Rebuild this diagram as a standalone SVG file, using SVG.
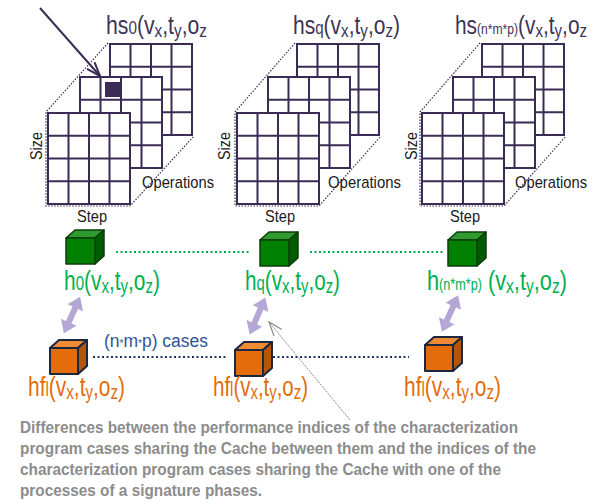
<svg xmlns="http://www.w3.org/2000/svg" xmlns:xlink="http://www.w3.org/1999/xlink" width="593" height="504" viewBox="0 0 593 504">
  <style>
    text { font-family: "Liberation Sans", Arial, sans-serif; }
    .hs { font-size: 25px; fill: #3d3354; }
    .hg { font-size: 27px; fill: #00b050; }
    .ho { font-size: 27px; fill: #e46c0a; }
    .ax { font-size: 17px; fill: #1a1a1a; }
    .sub { font-size: 0.72em; }
    .subs { font-size: 0.58em; }
    .cases { font-size: 18px; fill: #2f5597; }
    .note { font-size: 17px; font-weight: bold; fill: #8c8c8c; }
    .grid-line { stroke: #3b2c55; stroke-width: 2; fill: none; }
    .box-dots { stroke: #3b2c55; stroke-width: 1.2; stroke-dasharray: 1.5 1.5; fill: none; }
    .green-dots { stroke: #00b050; stroke-width: 2; stroke-dasharray: 2 2.5; fill: none; }
    .navy-dots { stroke: #1f3864; stroke-width: 2; stroke-dasharray: 2 2.5; fill: none; }
  </style>
  <defs>
    <!-- 4x4 grid sheet, 82 x 91 -->
    <g id="grid">
      <rect x="0" y="0" width="82" height="91" fill="#ffffff"/>
      <path class="grid-line" d="M0,0 H82 V91 H0 Z M20.5,0 V91 M41,0 V91 M61.5,0 V91 M0,22.75 H82 M0,45.5 H82 M0,68.25 H82"/>
    </g>
    <!-- green cube -->
    <g id="gcube" stroke="#0b3d0b" stroke-width="1.5" stroke-linejoin="round">
      <polygon points="0,0 9,-8 38,-8 29,0" fill="#2f9a2f"/>
      <polygon points="29,0 38,-8 38,18 29,26" fill="#005c00"/>
      <rect x="0" y="0" width="29" height="26" fill="#008000"/>
    </g>
    <!-- orange cube -->
    <g id="ocube" stroke="#1c2841" stroke-width="2" stroke-linejoin="round">
      <polygon points="0,0 9,-8 37,-8 28,0" fill="#f08a35"/>
      <polygon points="28,0 37,-8 37,18 28,26" fill="#b65508"/>
      <rect x="0" y="0" width="28" height="26" fill="#e46c0a"/>
    </g>
    <!-- double-headed lavender arrow along x axis, length 40 -->
    <polygon id="dblarrow" points="-20,0 -8,-8.5 -8,-3 8,-3 8,-8.5 20,0 8,8.5 8,3 -8,3 -8,8.5" fill="#b4a7d6"/>
    <marker id="openDark" viewBox="0 0 16 12" refX="15" refY="6" markerWidth="16" markerHeight="12" markerUnits="userSpaceOnUse" orient="auto">
      <path d="M1,1 L15,6 L1,11" fill="none" stroke="#3b2c55" stroke-width="2"/>
    </marker>
    <marker id="openGrey" viewBox="0 0 16 12" refX="15" refY="6" markerWidth="16" markerHeight="12" markerUnits="userSpaceOnUse" orient="auto">
      <path d="M1,1 L15,6 L1,11" fill="none" stroke="#8a8a8a" stroke-width="1.2"/>
    </marker>
  </defs>

  <!-- stack of sheets: hs0 -->
  <g id="slice-hs0">
    <polyline class="box-dots" points="108,43 46,112 46,206 130,206 194,136"/>
    <use xlink:href="#grid" x="110" y="44"/>
    <use xlink:href="#grid" x="80" y="77"/>
    <rect x="105" y="82" width="15" height="15" fill="#3b2c55"/>
    <use xlink:href="#grid" x="48" y="113"/>
    <text class="hs" x="106" y="34" textLength="101" lengthAdjust="spacingAndGlyphs">hs<tspan class="sub">0</tspan>(v<tspan class="sub" dy="3">x</tspan><tspan dy="-3">,t</tspan><tspan class="sub" dy="3">y</tspan><tspan dy="-3">,o</tspan><tspan class="sub" dy="3">z</tspan></text>
    <text class="ax" transform="translate(41.5,146) rotate(-90)" text-anchor="middle" textLength="28" lengthAdjust="spacingAndGlyphs">Size</text>
    <text class="ax" x="77" y="222" textLength="30" lengthAdjust="spacingAndGlyphs">Step</text>
    <text class="ax" x="142" y="188" textLength="72" lengthAdjust="spacingAndGlyphs">Operations</text>
  </g>

  <!-- stack of sheets: hsq -->
  <g id="slice-hsq">
    <polyline class="box-dots" points="295,43 235,112 235,206 319,206 381,136"/>
    <use xlink:href="#grid" x="297" y="44"/>
    <use xlink:href="#grid" x="268" y="77"/>
    <use xlink:href="#grid" x="237" y="113"/>
    <text class="hs" x="293" y="34" textLength="107" lengthAdjust="spacingAndGlyphs">hs<tspan class="sub">q</tspan>(v<tspan class="sub" dy="3">x</tspan><tspan dy="-3">,t</tspan><tspan class="sub" dy="3">y</tspan><tspan dy="-3">,o</tspan><tspan class="sub" dy="3">z</tspan><tspan dy="-3">)</tspan></text>
    <text class="ax" transform="translate(230,146) rotate(-90)" text-anchor="middle" textLength="28" lengthAdjust="spacingAndGlyphs">Size</text>
    <text class="ax" x="265" y="222" textLength="30" lengthAdjust="spacingAndGlyphs">Step</text>
    <text class="ax" x="328" y="188" textLength="73" lengthAdjust="spacingAndGlyphs">Operations</text>
  </g>

  <!-- stack of sheets: hs(n*m*p) -->
  <g id="slice-hsnmp">
    <polyline class="box-dots" points="480,43 420,112 420,206 504,206 566,136"/>
    <use xlink:href="#grid" x="482" y="44"/>
    <use xlink:href="#grid" x="453" y="77"/>
    <use xlink:href="#grid" x="422" y="113"/>
    <text class="hs" x="455" y="34" textLength="132" lengthAdjust="spacingAndGlyphs">hs<tspan class="subs">(n*m*p)</tspan>(v<tspan class="sub" dy="3">x</tspan><tspan dy="-3">,t</tspan><tspan class="sub" dy="3">y</tspan><tspan dy="-3">,o</tspan><tspan class="sub" dy="3">z</tspan></text>
    <text class="ax" transform="translate(416.5,146) rotate(-90)" text-anchor="middle" textLength="28" lengthAdjust="spacingAndGlyphs">Size</text>
    <text class="ax" x="450" y="222" textLength="30" lengthAdjust="spacingAndGlyphs">Step</text>
    <text class="ax" x="515" y="188" textLength="72" lengthAdjust="spacingAndGlyphs">Operations</text>
  </g>

  <!-- green nodes -->
  <g id="node-h0">
    <use xlink:href="#gcube" x="66" y="238"/>
    <text class="hg" x="64" y="290" textLength="96" lengthAdjust="spacingAndGlyphs">h<tspan class="sub">0</tspan>(v<tspan class="sub" dy="3">x</tspan><tspan dy="-3">,t</tspan><tspan class="sub" dy="3">y</tspan><tspan dy="-3">,o</tspan><tspan class="sub" dy="3">z</tspan><tspan dy="-3">)</tspan></text>
  </g>
  <g id="node-hq">
    <use xlink:href="#gcube" x="260" y="240"/>
    <text class="hg" x="245" y="290" textLength="95" lengthAdjust="spacingAndGlyphs">h<tspan class="sub">q</tspan>(v<tspan class="sub" dy="3">x</tspan><tspan dy="-3">,t</tspan><tspan class="sub" dy="3">y</tspan><tspan dy="-3">,o</tspan><tspan class="sub" dy="3">z</tspan><tspan dy="-3">)</tspan></text>
  </g>
  <g id="node-hnmp">
    <use xlink:href="#gcube" x="448" y="240"/>
    <text class="hg" x="427" y="290" textLength="140" lengthAdjust="spacingAndGlyphs">h<tspan class="subs">(n*m*p)</tspan> (v<tspan class="sub" dy="3">x</tspan><tspan dy="-3">,t</tspan><tspan class="sub" dy="3">y</tspan><tspan dy="-3">,o</tspan><tspan class="sub" dy="3">z</tspan><tspan dy="-3">)</tspan></text>
  </g>

  <!-- orange nodes -->
  <g id="node-hf1">
    <use xlink:href="#ocube" x="50" y="348"/>
    <text class="ho" x="28" y="396" textLength="97" lengthAdjust="spacingAndGlyphs">hf<tspan class="sub">l</tspan>(v<tspan class="sub" dy="3">x</tspan><tspan dy="-3">,t</tspan><tspan class="sub" dy="3">y</tspan><tspan dy="-3">,o</tspan><tspan class="sub" dy="3">z</tspan><tspan dy="-3">)</tspan></text>
  </g>
  <g id="node-hf2">
    <use xlink:href="#ocube" x="235" y="350"/>
    <text class="ho" x="213" y="396" textLength="95" lengthAdjust="spacingAndGlyphs">hf<tspan class="sub">l</tspan>(v<tspan class="sub" dy="3">x</tspan><tspan dy="-3">,t</tspan><tspan class="sub" dy="3">y</tspan><tspan dy="-3">,o</tspan><tspan class="sub" dy="3">z</tspan><tspan dy="-3">)</tspan></text>
  </g>
  <g id="node-hf3">
    <use xlink:href="#ocube" x="425" y="345"/>
    <text class="ho" x="404" y="396" textLength="97" lengthAdjust="spacingAndGlyphs">hf<tspan class="sub">l</tspan>(v<tspan class="sub" dy="3">x</tspan><tspan dy="-3">,t</tspan><tspan class="sub" dy="3">y</tspan><tspan dy="-3">,o</tspan><tspan class="sub" dy="3">z</tspan><tspan dy="-3">)</tspan></text>
  </g>

  <!-- connectors -->
  <g id="connectors">
    <line x1="40" y1="8" x2="100" y2="76" stroke="#3b2c55" stroke-width="2" marker-end="url(#openDark)"/>
    <line class="green-dots" x1="116" y1="252" x2="250" y2="252"/>
    <line class="green-dots" x1="310" y1="252" x2="444" y2="252"/>
    <line class="navy-dots" x1="93" y1="357" x2="228" y2="357"/>
    <line class="navy-dots" x1="273" y1="357" x2="409" y2="357"/>
    <use xlink:href="#dblarrow" transform="translate(72,315) rotate(114)"/>
    <use xlink:href="#dblarrow" transform="translate(257.5,316) rotate(113)"/>
    <use xlink:href="#dblarrow" transform="translate(450,313.5) rotate(114)"/>
    <line x1="350" y1="420" x2="269" y2="322" stroke="#8a8a8a" stroke-width="1" stroke-dasharray="2 1" marker-end="url(#openGrey)"/>
    <text class="cases" x="104" y="347" textLength="104" lengthAdjust="spacingAndGlyphs">(n<tspan class="subs">*</tspan>m<tspan class="subs">*</tspan>p) cases</text>
  </g>

  <!-- explanatory note -->
  <g id="note">
    <text class="note" x="20" y="433" textLength="498" lengthAdjust="spacingAndGlyphs">Differences between the performance indices of the characterization</text>
    <text class="note" x="20" y="454" textLength="516" lengthAdjust="spacingAndGlyphs">program cases sharing the Cache between them and the indices of the</text>
    <text class="note" x="20" y="475" textLength="481" lengthAdjust="spacingAndGlyphs">characterization program cases sharing the Cache with one of the</text>
    <text class="note" x="20" y="496" textLength="242" lengthAdjust="spacingAndGlyphs">processes of a signature phases.</text>
  </g>
</svg>
